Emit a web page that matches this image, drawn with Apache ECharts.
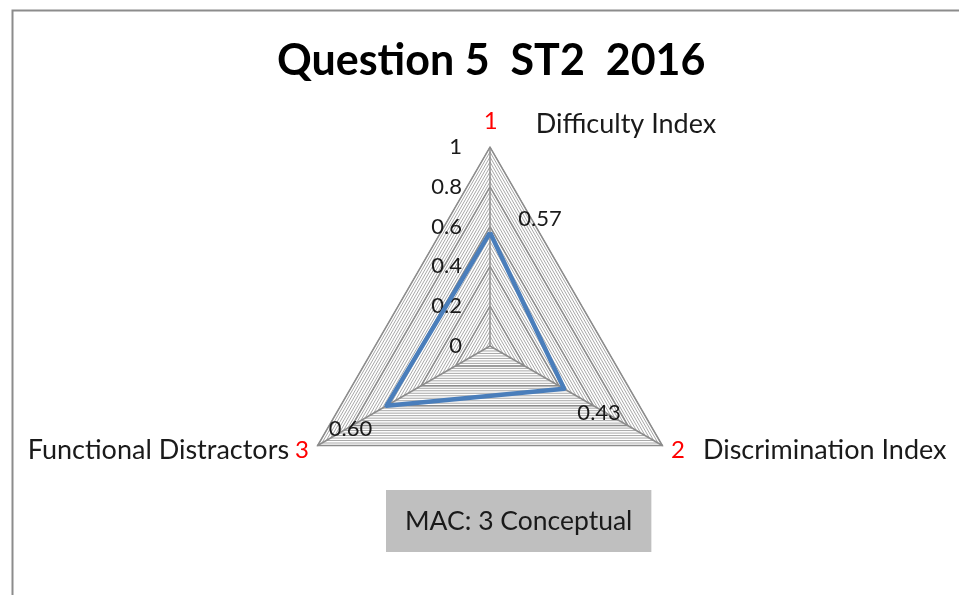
<!DOCTYPE html>
<html style="height: 100%">
<head>
    <meta charset="utf-8">
    <script type="text/javascript" src="https://cdn.jsdelivr.net/npm/echarts@6/dist/echarts.min.js"></script>
    <title>Question 5 ST2 2016</title>
</head>
<body style="height: 100%; margin: 0; background: #fff">
<div id="container" style="width: 959px; height: 595px"></div>
</body>
<script type="text/javascript">
    // indicators, in the order of the red numbers 1, 2, 3
    let categories = ['Difficulty Index', 'Discrimination Index', 'Functional Distractors'];
    let categoryNumbers = ['1', '2', '3'];
    let values = [0.57, 0.43, 0.60];
    let tickLabels = ['0', '0.2', '0.4', '0.6', '0.8', '1'];
    let titleText = 'Question 5  ST2  2016';
    let noteText = 'MAC: 3 Conceptual';

    // echarts lays indicators out counter-clockwise, the picture goes clockwise
    let order = [0, 2, 1];
    let font = 'Lato';

    let dom = document.getElementById('container');
    let myChart = echarts.init(dom, null, {renderer: 'canvas'});

    let indicators = order.map(function (i) {
        let ind = {name: categories[i], min: 0, max: 1};
        if (i !== 0) ind.axisLabel = {show: false};
        if (i === 0) ind.nameGap = 8;
        return ind;
    });
    let shown = order.map(function (i) { return values[i]; });
    let labelOffsets = {0: [50, -14], 1: [35, 24], 2: [-36, 23]};

    let radarBase = {
        center: [490, 346],
        radius: 199,
        startAngle: 90,
        shape: 'polygon',
        indicator: indicators,
        splitArea: {show: false}
    };

    let option = {
        animation: false,
        backgroundColor: '#fff',
        title: [{
            text: titleText,
            left: 277,
            top: 40,
            padding: 0,
            textStyle: {fontFamily: font, fontWeight: 'bold', fontSize: 43, color: '#000'}
        }, {
            text: noteText,
            left: 386,
            top: 490,
            backgroundColor: '#bfbfbf',
            padding: [16, 19],
            textStyle: {fontFamily: font, fontWeight: 'normal', fontSize: 26.5, lineHeight: 30, color: '#1a1a1a'}
        }],
        graphic: [{
            type: 'rect',
            left: 10,
            top: 8,
            shape: {width: 1000, height: 1000},
            style: {fill: 'none', stroke: '#8c8c8c', lineWidth: 2},
            silent: true
        }],
        radar: [
            Object.assign({}, radarBase, {
                splitNumber: 40,
                axisName: {show: false},
                axisLine: {show: false},
                axisLabel: {show: false},
                splitLine: {lineStyle: {color: '#a8a8a8', width: 1}}
            }),
            Object.assign({}, radarBase, {
                splitNumber: tickLabels.length - 1,
                nameGap: 10,
                axisLine: {lineStyle: {color: '#8c8c8c', width: 1.5}},
                splitLine: {lineStyle: {color: '#8c8c8c', width: 1.5}},
                axisLabel: {
                    show: true,
                    margin: 28,
                    fontFamily: font,
                    fontSize: 22,
                    color: '#1a1a1a',
                    formatter: function (v) { return tickLabels[Math.round(v * (tickLabels.length - 1))]; }
                },
                axisName: {
                    fontFamily: font,
                    fontSize: 27,
                    color: '#1a1a1a',
                    formatter: function (name) {
                        let i = categories.indexOf(name);
                        if (i === 2) return '{t|' + name + '}{n' + i + '|' + categoryNumbers[i] + '}';
                        return '{n' + i + '|' + categoryNumbers[i] + '}{t|' + name + '}';
                    },
                    rich: {
                        t: {fontFamily: font, fontSize: 27, color: '#1a1a1a'},
                        n0: {fontFamily: font, fontSize: 24, color: '#ff0000', padding: [0, 38, 6, 220]},
                        n1: {fontFamily: font, fontSize: 24, color: '#ff0000', padding: [0, 18, 0, 0]},
                        n2: {fontFamily: font, fontSize: 24, color: '#ff0000', padding: [0, 0, 0, 6]}
                    }
                }
            })
        ],
        series: [{
            type: 'radar',
            radarIndex: 1,
            symbol: 'none',
            silent: true,
            lineStyle: {color: '#4a7ebb', width: 4.5},
            data: [{value: shown}]
        }, {
            type: 'radar',
            radarIndex: 1,
            symbol: 'circle',
            symbolSize: 1,
            silent: true,
            itemStyle: {color: 'rgba(0,0,0,0)'},
            lineStyle: {opacity: 0},
            data: values.map(function (val, k) {
                return {
                    value: shown,
                    label: {
                        show: true,
                        position: 'inside',
                        offset: labelOffsets[k],
                        fontFamily: font,
                        fontSize: 22,
                        color: '#1a1a1a',
                        formatter: function (p) { return p.value === val ? val.toFixed(2) : ''; }
                    }
                };
            })
        }]
    };

    myChart.setOption(option);
</script>
</html>
